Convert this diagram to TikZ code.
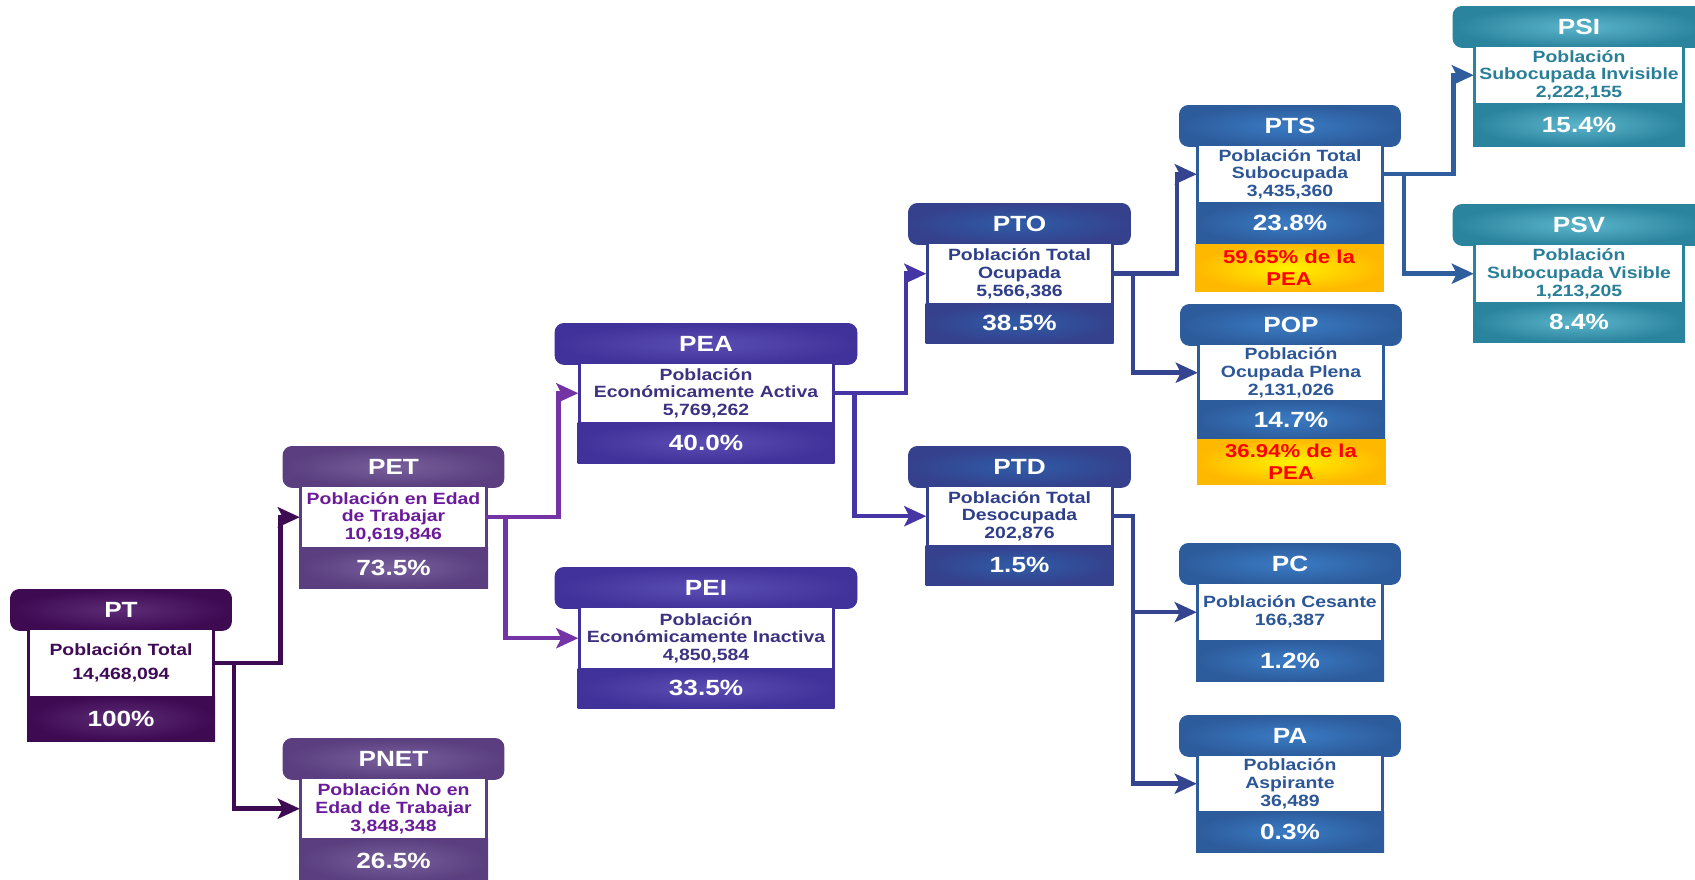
\documentclass[tikz,border=0pt]{standalone}
\usepackage{fontspec}
\newfontfamily\lsans{Liberation Sans}[FakeStretch=1.19]
\usetikzlibrary{arrows.meta,calc}
% group colours: D = dark, L = light centre, T = text
\definecolor{ptD}{HTML}{3E0A52}\definecolor{ptL}{HTML}{5C2C76}\definecolor{ptT}{HTML}{3F0B56}
\definecolor{petD}{HTML}{5A3E7F}\definecolor{petL}{HTML}{77609B}\definecolor{petT}{HTML}{6A1B9A}
\definecolor{peaD}{HTML}{40329A}\definecolor{peaL}{HTML}{5A4DB2}\definecolor{peaT}{HTML}{3D3280}
\definecolor{ptoD}{HTML}{35418C}\definecolor{ptoL}{HTML}{2F5CA8}\definecolor{ptoT}{HTML}{2E3E88}
\definecolor{ptsD}{HTML}{2D5C9C}\definecolor{ptsL}{HTML}{3A7BC4}\definecolor{ptsT}{HTML}{2C5696}
\definecolor{psiD}{HTML}{2B849D}\definecolor{psiL}{HTML}{5BB5CB}\definecolor{psiT}{HTML}{2A7F98}
\definecolor{yelD}{HTML}{FFB800}\definecolor{yelL}{HTML}{FFF200}
\definecolor{cPT}{HTML}{3E0A52}\definecolor{cPET}{HTML}{7434A6}\definecolor{cPEA}{HTML}{4535A5}
\definecolor{cPTO}{HTML}{35448F}\definecolor{cPTS}{HTML}{2F5E9E}
\newcommand\hdrfnt{\lsans\bfseries\fontsize{22}{24}\selectfont}
\newcommand\bdyfnt{\lsans\bfseries\fontsize{16.3}{17.9}\selectfont}
\newcommand\yelfnt{\lsans\bfseries\fontsize{18.6}{21.7}\selectfont}
\def\whH{58}\def\bandH{41}
\newcommand\setdims[2]{\def\whH{#1}\def\bandH{#2}}
\tikzset{
  hdr/.style={anchor=north, rounded corners=9pt, minimum height=41pt, inner sep=0pt,
    draw=#1D, line width=0.8pt, shade, inner color=#1L, outer color=#1D, text=white, font=\hdrfnt},
  wbox/.style={anchor=north, fill=white, inner sep=0pt, align=center, text=#1T, font=\bdyfnt},
  pctn/.style={text=white, font=\hdrfnt, inner sep=0pt},
  ybox/.style={anchor=north, inner sep=0pt, minimum width=188pt, align=center, text=red,
    font=\yelfnt, shade, inner color=yelL, outer color=yelD, draw=yelD, line width=0.8pt},
  conn/.style={draw=#1, line width=4.5pt, -{Stealth[length=22pt,width=20pt,inset=5pt]}, shorten >=2pt}
}
% name, cx, ytop, group, body width, header width, header, body, pct
\newcommand\pbox[9]{%
  \node[hdr=#4, minimum width=#6] (#1-h) at (#2,#3) {#7};
  \fill[#4D] ({#2-#5/2},{#3+41}) rectangle ({#2+#5/2},{#3+41+\whH+\bandH});
  \shade[inner color=#4L, outer color=#4D] ({#2-#5/2},{#3+41+\whH}) rectangle ({#2+#5/2},{#3+41+\whH+\bandH});
  \node[wbox=#4, minimum width=#5-6, minimum height=\whH] (#1) at (#2,{#3+41}) {#8};
  \node[pctn] (#1-p) at (#2,{#3+41+\whH+\bandH/2}) {#9};
}
\begin{document}
\begin{tikzpicture}[x=1pt,y=-1pt]
\useasboundingbox (0,0) rectangle (1695,879);
\setdims{66}{45}
\pbox{PT}{121}{589}{pt}{188}{221}{PT}{Población Total\\[6pt]14,468,094}{100\%}
\setdims{60}{41}
\pbox{PET}{393.5}{446}{pet}{189}{221}{PET}{Población en Edad\\de Trabajar\\10,619,846}{73.5\%}
\setdims{59}{45}
\pbox{PNET}{393.5}{738}{pet}{189}{221}{PNET}{Población No en\\Edad de Trabajar\\3,848,348}{26.5\%}
\setdims{58}{41}
\pbox{PEA}{706}{323}{pea}{257}{302}{PEA}{Población\\Económicamente Activa\\5,769,262}{40.0\%}
\setdims{60}{40}
\pbox{PEI}{706}{567}{pea}{257}{302}{PEI}{Población\\Económicamente Inactiva\\4,850,584}{33.5\%}
\setdims{59}{40}
\pbox{PTO}{1019.5}{203}{pto}{188}{222}{PTO}{Población Total\\Ocupada\\5,566,386}{38.5\%}
\setdims{58}{40}
\pbox{PTD}{1019.5}{446}{pto}{188}{222}{PTD}{Población Total\\Desocupada\\202,876}{1.5\%}
\setdims{56}{42}
\pbox{PTS}{1290}{105}{pts}{188}{221}{PTS}{Población Total\\Subocupada\\3,435,360}{23.8\%}
\setdims{55}{39}
\pbox{POP}{1291}{304}{pts}{188}{221}{POP}{Población\\Ocupada Plena\\2,131,026}{14.7\%}
\setdims{56}{41}
\pbox{PC}{1290}{543}{pts}{188}{221}{PC}{Población Cesante\\166,387}{1.2\%}
\setdims{55}{41}
\pbox{PA}{1290}{715}{pts}{188}{221}{PA}{Población\\Aspirante\\36,489}{0.3\%}
\setdims{56}{43}
\pbox{PSI}{1579}{6}{psi}{212}{252}{PSI}{Población\\Subocupada Invisible\\2,222,155}{15.4\%}
\setdims{57}{40}
\pbox{PSV}{1579}{204}{psi}{212}{252}{PSV}{Población\\Subocupada Visible\\1,213,205}{8.4\%}
% yellow notes
\node[ybox, minimum height=47pt] (PTS-y) at (1289,244) {59.65\% de la\\PEA};
\node[ybox, minimum height=45pt] (POP-y) at (1291,439) {36.94\% de la\\PEA};
% connectors
\draw[conn=cPT] (PT.east) -- ($(PT.east -| PET-h.west)+(-2,0)$) |- (PET.west);
\draw[conn=cPT] (PT.east) -- ($(PT.east -| PT-h.east)+(2,0)$) |- (PNET.west);
\draw[conn=cPET] (PET.east) -- ($(PET.east -| PEA-h.west)+(4,0)$) |- (PEA.west);
\draw[conn=cPET] (PET.east) -- ($(PET.east -| PET-h.east)+(1,0)$) |- (PEI.west);
\draw[conn=cPEA] (PEA.east) -- ($(PEA.east -| PTO-h.west)+(-2,0)$) |- (PTO.west);
\draw[conn=cPEA] (PEA.east) -- ($(PEA.east -| PEA-h.east)+(-3,0)$) |- (PTD.west);
\draw[conn=cPTO] (PTO.east) -- ($(PTO.east -| PTS-h.west)+(-2,0)$) |- (PTS.west);
\draw[conn=cPTO] (PTO.east) -- ($(PTO.east -| PTO-h.east)+(2,0)$) |- (POP.west);
\draw[conn=cPTO] (PTD.east) -- ($(PTD.east -| PTD-h.east)+(2,0)$) |- (PC.west);
\draw[conn=cPTO] (PTD.east) -- ($(PTD.east -| PTD-h.east)+(2,0)$) |- (PA.west);
\draw[conn=cPTS] (PTS.east) -- ($(PTS.east -| PSI-h.west)+(1,0)$) |- (PSI.west);
\draw[conn=cPTS] (PTS.east) -- ($(PTS.east -| PTS-h.east)+(3,0)$) |- (PSV.west);
\end{tikzpicture}
\end{document}
